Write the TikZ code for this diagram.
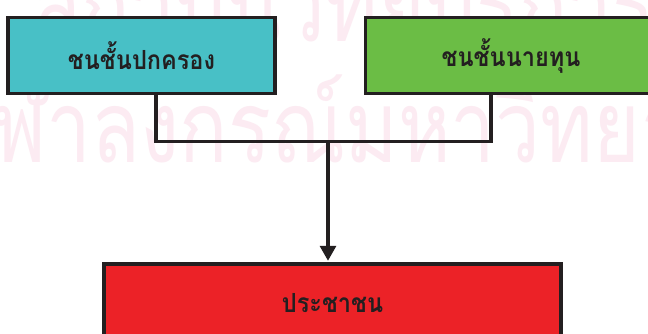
\documentclass[tikz,border=0pt]{standalone}
\usepackage{fontspec}
\usetikzlibrary{arrows.meta}
\newfontfamily\thai[Script=Thai]{Loma}
\definecolor{bordc}{RGB}{35,31,32}
\definecolor{cyanf}{RGB}{72,192,198}
\definecolor{greenf}{RGB}{107,189,69}
\definecolor{redf}{RGB}{236,34,39}
\definecolor{wmark}{RGB}{252,235,242}
\newcommand{\boxtext}[1]{\scalebox{1}[1.12]{#1}}
\tikzset{
  box/.style={draw=bordc, line width=3.5pt, rectangle, inner sep=0pt,
    font=\thai\bfseries\fontsize{23.5}{26}\selectfont, text=bordc},
  wm/.style={text=wmark, inner sep=0pt, anchor=base west,
    font=\thai\fontsize{100}{110}\selectfont},
  link/.style={draw=bordc, line width=3.2pt},
}
\begin{document}
\begin{tikzpicture}[x=1pt,y=-1pt]
\clip (0,0) rectangle (648,333);
\fill[white] (0,0) rectangle (648,333);
% watermark
\node[wm, xscale=0.8] (wma) at (33,41) {สถาบันวิทยบริการ};
\node[wm, xscale=0.8] (wmb) at (-55,162) {จุฬาลงกรณ์มหาวิทยาลัย};
% boxes
\node[box, fill=cyanf, minimum width=267pt, minimum height=76pt] (lt) at (141.5,55.5) {\boxtext{ชนชั้นปกครอง}};
\node[box, fill=greenf, minimum width=291pt, minimum height=76pt] (rt) at (511,55.5) {\boxtext{ชนชั้นนายทุน}};
\node[box, fill=redf, minimum width=457pt, minimum height=78pt] (bt) at (332.5,303) {\boxtext{ประชาชน}};
% connectors
\coordinate (jl) at (156,141.5);
\coordinate (jr) at (491,141.5);
\coordinate (jc) at (328,141.5);
\draw[link] (lt.south -| jl) -- (jl) -- (jr) -- (rt.south -| jr);
\draw[link, -{Triangle[width=16pt,length=15pt]}, shorten >=1.5pt] (jc) -- (bt.north -| jc);
\end{tikzpicture}
\end{document}
